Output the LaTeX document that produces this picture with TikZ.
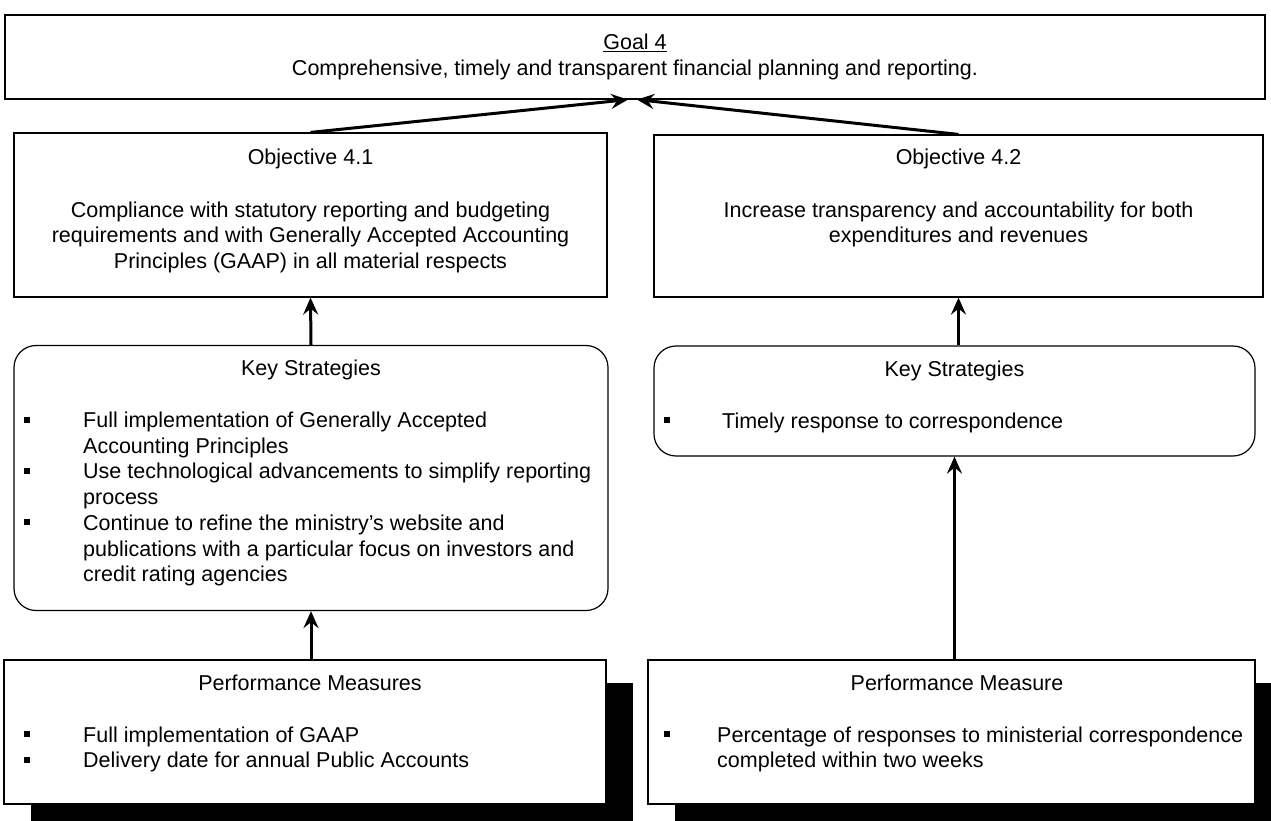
\documentclass[tikz,border=0pt]{standalone}
\usepackage{fontspec}
\setmainfont{Liberation Sans}
\usetikzlibrary{arrows.meta,positioning,calc,shadows}

\tikzset{
  box/.style={draw, line width=1.2pt, fill=white, inner sep=0pt},
  roundbox/.style={box, rounded corners=22pt},
  shadowbox/.style={box, drop shadow={shadow xshift=27pt, shadow yshift=-23pt, opacity=1, fill=black}},
  lbl/.style={inner sep=0pt, anchor=base, font=\fontsize{21.5}{25.7}\selectfont},
  lline/.style={lbl, anchor=base west},
  link/.style={line width=3pt, -{Stealth[length=17pt,width=15pt,inset=6pt]}},
}
\newcommand{\sqbullet}{\rule[5pt]{5.5pt}{6pt}}

\begin{document}
\begin{tikzpicture}[x=1pt,y=-1pt]
\useasboundingbox (0,0) rectangle (1271,820);
\clip (0,0) rectangle (1271,820);

% boxes
\node[box, minimum width=1260pt, minimum height=84pt] (goal) at (635,57) {};
\node[box, minimum width=593pt, minimum height=164pt] (obj41) at (310.5,215) {};
\node[box, minimum width=609pt, minimum height=162pt] (obj42) at (958.5,216) {};
\node[roundbox, minimum width=594pt, minimum height=265pt] (ks1) at (311,478) {};
\node[roundbox, minimum width=601pt, minimum height=110pt] (ks2) at (954.5,401) {};
\node[shadowbox, minimum width=602pt, minimum height=144pt] (pm1) at (305,732) {};
\node[shadowbox, minimum width=607pt, minimum height=144pt] (pm2) at (951.5,732) {};

% goal
\node[lbl] (goaltitle) at (635,49.5) {\underline{Goal 4}};
\node[lbl] (goaltext) at (635,75.5) {Comprehensive, timely and transparent financial planning and reporting.};

% objectives
\node[lbl] (obj41title) at (310.5,164.5) {Objective 4.1};
\node[lbl] (obj41a) at (310.5,217) {Compliance with statutory reporting and budgeting};
\node[lbl] (obj41b) at (310.5,242.7) {requirements and with Generally Accepted Accounting};
\node[lbl] (obj41c) at (310.5,268.4) {Principles (GAAP) in all material respects};
\node[lbl] (obj42title) at (958.5,164.5) {Objective 4.2};
\node[lbl] (obj42a) at (958.5,217) {Increase transparency and accountability for both};
\node[lbl] (obj42b) at (958.5,242.7) {expenditures and revenues};

% key strategies
\node[lbl] (ks1title) at (311,375.5) {Key Strategies};
\node[lline] (ks1b1) at (24,427.5) {\sqbullet};
\node[lline] (ks1a) at (83,427.5) {Full implementation of Generally Accepted};
\node[lline] (ks1a2) at (83,453.2) {Accounting Principles};
\node[lline] (ks1b2) at (24,478.9) {\sqbullet};
\node[lline] (ks1b) at (83,478.9) {Use technological advancements to simplify reporting};
\node[lline] (ks1b3) at (83,504.6) {process};
\node[lline] (ks1b4) at (24,530.3) {\sqbullet};
\node[lline] (ks1c) at (83,530.3) {Continue to refine the ministry’s website and};
\node[lline] (ks1c2) at (83,556) {publications with a particular focus on investors and};
\node[lline] (ks1c3) at (83,581.7) {credit rating agencies};
\node[lbl] (ks2title) at (954.5,376.5) {Key Strategies};
\node[lline] (ks2b1) at (664,428) {\sqbullet};
\node[lline] (ks2a) at (722,428) {Timely response to correspondence};

% performance measures
\node[lbl] (pm1title) at (310,690.5) {Performance Measures};
\node[lline] (pm1b1) at (24,742) {\sqbullet};
\node[lline] (pm1a) at (83,742) {Full implementation of GAAP};
\node[lline] (pm1b2) at (24,767.7) {\sqbullet};
\node[lline] (pm1b) at (83,767.7) {Delivery date for annual Public Accounts};
\node[lbl] (pm2title) at (957,690.5) {Performance Measure};
\node[lline] (pm2b1) at (664,742) {\sqbullet};
\node[lline] (pm2a) at (717,742) {Percentage of responses to ministerial correspondence};
\node[lline] (pm2a2) at (717,767.7) {completed within two weeks};

% arrows
\draw[link] (obj41.north) -- ($(goal.south)+(-7,0)$);
\draw[link] (obj42.north) -- ($(goal.south)+(2,0)$);
\draw[link] (ks1.north) -- (obj41.south);
\draw[link] (ks2.north -| obj42.south) -- (obj42.south);
\draw[link] (pm1.north -| ks1.south) -- (ks1.south);
\draw[link] (pm2.north -| ks2.south) -- (ks2.south);
\end{tikzpicture}
\end{document}
